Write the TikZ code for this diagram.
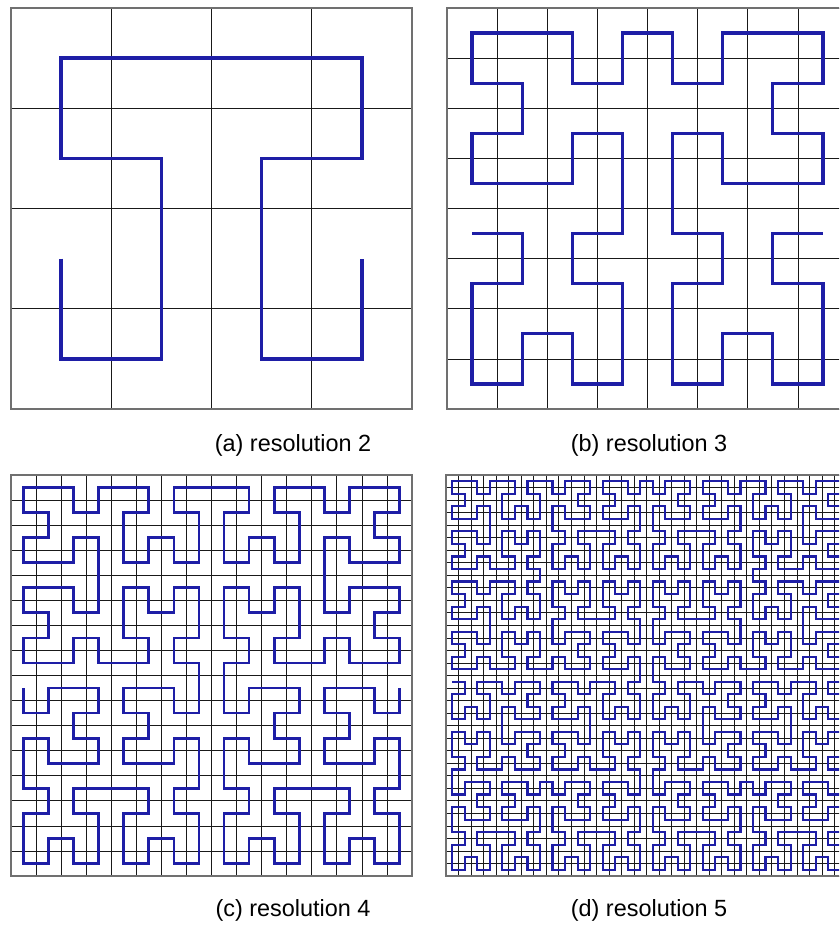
\documentclass[tikz,border=0pt]{standalone}
\usepackage{fontspec}
\setmainfont{Liberation Sans}
\usetikzlibrary{lindenmayersystems}
\definecolor{cnavy}{HTML}{1E1EA6}
\definecolor{cframe}{HTML}{707070}

\pgfdeclarelindenmayersystem{quad hilbert}{
  \rule{A -> +BF-AFA-FB+}
  \rule{B -> -AF+BFB+FA-}
}

\begin{document}
\begin{tikzpicture}[x=0.03cm,y=0.03cm,
  gridline/.style={black!90,line width=0.6pt},
  frameline/.style={cframe,line width=0.9pt},
  curveline/.style={cnavy,line join=miter},
  caption/.style={font=\fontsize{20}{24}\selectfont,anchor=base}]
  \useasboundingbox (0,0) rectangle (839,925);
  \clip (0,0) rectangle (839,925);
  % four panels: left x, bottom y, resolution, curve width
  \foreach \px/\py/\res/\lw in {11/516/2/2.8pt,447/516/3/2.7pt,11/49/4/2.3pt,446/49/5/1.8pt}{
    \pgfmathsetmacro\cell{401/2^\res}
    \pgfmathtruncatemacro\ord{\res-1}
    \pgfmathsetmacro\stepcm{\cell*0.03}
    \begin{scope}[shift={(\px,\py)}]
      \draw[gridline] (0,0) grid[step=\cell] (401,401);
      \draw[frameline] (0,0) rectangle (401,401);
      \begin{scope}[shift={({0.5*\cell},{(2^\ord-0.5)*\cell})}]
        \draw[curveline,line width=\lw,
          lindenmayer system={quad hilbert, axiom=B+FA-F-AF+B, order=\ord, step=\stepcm cm, angle=90}]
          (0,0) lindenmayer system;
      \end{scope}
    \end{scope}
  }
  \node[caption] (capa) at (293,473) {(a) resolution 2};
  \node[caption] (capb) at (649,473) {(b) resolution 3};
  \node[caption] (capc) at (293,8) {(c) resolution 4};
  \node[caption] (capd) at (649,8) {(d) resolution 5};
\end{tikzpicture}
\end{document}
